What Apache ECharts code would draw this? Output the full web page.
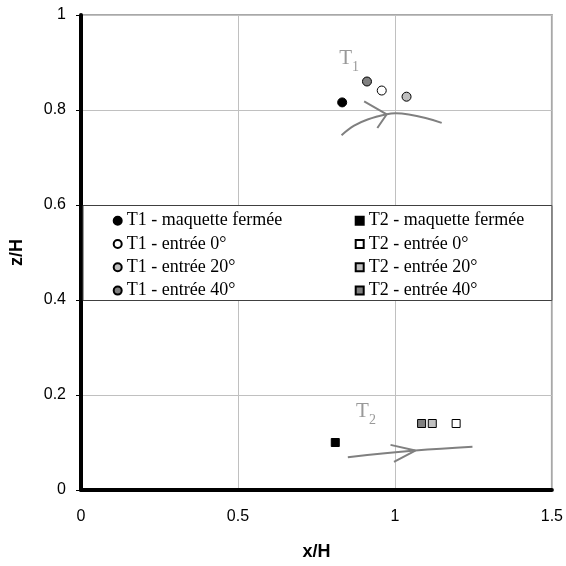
<!DOCTYPE html>
<html>
<head>
<meta charset="utf-8">
<script src="https://cdn.jsdelivr.net/npm/echarts@6/dist/echarts.min.js"></script>
<style>html,body{margin:0;padding:0;background:#fff}#c{width:566px;height:566px}</style>
</head>
<body>
<div id="c"></div>
<script>
// ---- data ----
const t1Names = ['T1 - maquette fermée', 'T1 - entrée 0°', 'T1 - entrée 20°', 'T1 - entrée 40°'];
const t1X = [0.832, 0.958, 1.037, 0.911];
const t1Z = [0.816, 0.841, 0.828, 0.860];
const t2Names = ['T2 - maquette fermée', 'T2 - entrée 0°', 'T2 - entrée 20°', 'T2 - entrée 40°'];
const t2X = [0.810, 1.195, 1.119, 1.085];
const t2Z = [0.100, 0.140, 0.140, 0.140];
const fills = ['#000000', '#ffffff', '#c0c0c0', '#808080'];

// streamline sketches (x/H, z/H)
const s1CurveX = [0.830, 0.870, 0.913, 0.974, 1.002, 1.149];
const s1CurveZ = [0.747, 0.767, 0.780, 0.791, 0.793, 0.773];
const s1HeadX = [0.902, 0.974, 0.944];
const s1HeadZ = [0.818, 0.791, 0.762];
const s2CurveX = [0.850, 1.065, 1.247];
const s2CurveZ = [0.069, 0.083, 0.091];
const s2HeadX = [0.986, 1.065, 0.997];
const s2HeadZ = [0.095, 0.083, 0.059];

const labelsText = ['1', '2'];
const labelX = [0.854, 0.908];
const labelZ = [0.908, 0.165];

const xTicks = {min: 0, max: 1.5, interval: 0.5};
const yTicks = {min: 0, max: 1, interval: 0.2};
const legendBoxZ = [0.6, 0.4];

const zip = (a, b) => a.map((v, i) => [v, b[i]]);

const chart = echarts.init(document.getElementById('c'), null, {renderer: 'canvas'});

const series = [];
t1Names.forEach((n, i) => series.push({
  name: n, type: 'scatter', symbol: 'circle', symbolSize: 9,
  itemStyle: {color: fills[i], borderColor: '#000', borderWidth: 1, opacity: 1},
  data: [[t1X[i], t1Z[i]]], z: 5
}));
t2Names.forEach((n, i) => series.push({
  name: n, type: 'scatter', symbol: 'rect', symbolSize: 8,
  itemStyle: {color: fills[i], borderColor: '#000', borderWidth: 1, opacity: 1},
  data: [[t2X[i], t2Z[i]]], z: 5
}));
const lineStyle = {color: '#808080', width: 2};
[[s1CurveX, s1CurveZ, true], [s1HeadX, s1HeadZ, false], [s2CurveX, s2CurveZ, true], [s2HeadX, s2HeadZ, false]].forEach(([xs, zs, sm]) => series.push({
  type: 'line', data: zip(xs, zs), showSymbol: false, symbol: 'none', smooth: sm ? 0.4 : false,
  lineStyle: lineStyle, silent: true, z: 4
}));
// T labels
series.push({
  type: 'scatter', symbolSize: 0, silent: true, z: 6,
  data: zip(labelX, labelZ).map((p, i) => ({value: p, sub: labelsText[i]})),
  label: {show: true, position: 'inside',
    formatter: p => '{t|T}{s|' + p.data.sub + '}',
    rich: {t: {fontFamily: 'Liberation Serif', fontSize: 21, color: '#808080'},
           s: {fontFamily: 'Liberation Serif', fontSize: 14, color: '#808080', verticalAlign: 'bottom', padding: [0, 0, -5, 0]}}}
});

const legendCommon = {
  orient: 'vertical', itemWidth: 8, itemHeight: 8, itemGap: 5.3,
  textStyle: {fontFamily: 'Liberation Serif', fontSize: 18, color: '#000', lineHeight: 18},
  selectedMode: false, top: 211.7, z: 6, padding: 0
};

chart.setOption({
  animation: false,
  backgroundColor: '#fff',
  grid: {left: 77, right: 13, top: 15, bottom: 73, containLabel: false,
    show: true, borderColor: '#a8a8a8', borderWidth: 2, backgroundColor: 'transparent'},
  xAxis: {
    type: 'value', min: xTicks.min, max: xTicks.max, interval: xTicks.interval,
    axisLine: {show: true, onZero: false, lineStyle: {color: '#000', width: 4}},
    axisTick: {show: false},
    axisLabel: {margin: 19, fontFamily: 'Liberation Sans', fontSize: 16, color: '#000'},
    splitLine: {show: true, lineStyle: {color: '#c0c0c0', width: 1}},
    name: 'x/H', nameLocation: 'middle', nameGap: 53,
    nameTextStyle: {fontFamily: 'Liberation Sans', fontSize: 18, fontWeight: 'bold', color: '#000'}
  },
  yAxis: {
    type: 'value', min: yTicks.min, max: yTicks.max, interval: yTicks.interval,
    axisLine: {show: true, onZero: false, lineStyle: {color: '#000', width: 4}},
    axisTick: {show: true, length: 5, lineStyle: {color: '#000', width: 1}},
    axisLabel: {margin: 15, fontFamily: 'Liberation Sans', fontSize: 16, color: '#000'},
    splitLine: {show: true, lineStyle: {color: '#c0c0c0', width: 1}},
    name: 'z/H', nameLocation: 'middle', nameGap: 55,
    nameTextStyle: {fontFamily: 'Liberation Sans', fontSize: 18, fontWeight: 'bold', color: '#000'}
  },
  legend: [
    Object.assign({}, legendCommon, {left: 112.7, data: t1Names.map(n => ({name: n, icon: 'circle'}))}),
    Object.assign({}, legendCommon, {left: 354.7, data: t2Names.map(n => ({name: n, icon: 'rect'}))})
  ],
  series: series
});

const p1 = chart.convertToPixel({gridIndex: 0}, [xTicks.min, legendBoxZ[0]]);
const p2 = chart.convertToPixel({gridIndex: 0}, [xTicks.max, legendBoxZ[1]]);
chart.setOption({
  graphic: [{
    type: 'rect', z: 3, silent: true,
    shape: {x: p1[0] + 2, y: p1[1] + 0.5, width: p2[0] - p1[0] - 2, height: p2[1] - p1[1]},
    style: {fill: '#fff', stroke: '#404040', lineWidth: 1}
  }]
});
</script>
</body>
</html>
